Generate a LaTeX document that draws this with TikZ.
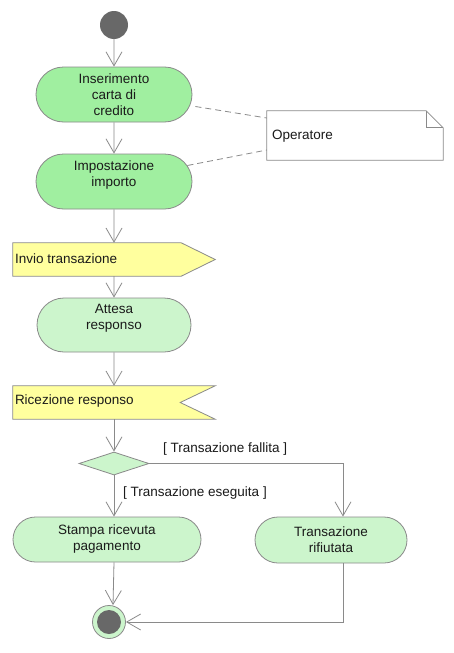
\documentclass[tikz,border=0pt]{standalone}
\usepackage{fontspec}
\setmainfont{Liberation Sans}
\usetikzlibrary{shapes.misc,shapes.geometric,arrows.meta,calc}
\definecolor{actgreen}{HTML}{A0EFA0}
\definecolor{palegreen}{HTML}{CCF5CC}
\definecolor{sigyellow}{HTML}{FFFF9E}
\definecolor{linegray}{HTML}{8A8A8A}
\definecolor{dotgray}{HTML}{686868}
\definecolor{txtcol}{HTML}{1A1A1A}
\begin{document}
\begin{tikzpicture}[x=1pt,y=-1pt,
  txt/.style={font=\fontsize{13.5}{16}\selectfont, text=txtcol},
  act/.style={rounded rectangle, draw=linegray, line width=0.8pt, txt, align=center, inner sep=0pt},
  shapebox/.style={rectangle, inner sep=0pt, draw=none},
  outline/.style={draw=linegray, line width=0.8pt},
  flow/.style={draw=linegray, line width=0.8pt, -{Straight Barb[length=14pt,width=16pt,line width=0.8pt]}},
  anchorline/.style={draw=linegray, line width=0.8pt, dash pattern=on 6pt off 4pt},
  guard/.style={txt, anchor=west, inner sep=0pt}
]
\useasboundingbox (0,0) rectangle (454,653);
\fill[white] (0,0) rectangle (454,653);

% start
\node[circle, fill=dotgray, minimum size=28pt, inner sep=0pt] (start) at (114,25) {};

% actions
\node[act, fill=actgreen, minimum width=156pt, minimum height=55pt] (n1) at (114,94.5) {Inserimento\\carta di\\credito};
\node[act, fill=actgreen, minimum width=156pt, minimum height=55pt] (n2) at (114,181.5) {Impostazione\\importo\\\mbox{}};

% send signal
\node[shapebox, minimum width=202pt, minimum height=33pt] (send) at (114,259.5) {};
\path[outline, fill=sigyellow] (send.north west) -- ($(send.north east)+(-34,0)$) -- (send.east) -- ($(send.south east)+(-34,0)$) -- (send.south west) -- cycle;
\node[guard] (sendtxt) at ($(send.west)+(2,-1)$) {Invio transazione};

\node[act, fill=palegreen, minimum width=154pt, minimum height=54pt] (n3) at (114,325) {Attesa\\responso\\\mbox{}};

% receive signal
\node[shapebox, minimum width=202pt, minimum height=33pt] (recv) at (114,402.5) {};
\path[outline, fill=sigyellow] (recv.north west) -- (recv.north east) -- ($(recv.east)+(-35,0)$) -- (recv.south east) -- (recv.south west) -- cycle;
\node[guard] (recvtxt) at ($(recv.west)+(2,-1)$) {Ricezione responso};

% decision
\node[diamond, draw=linegray, line width=0.8pt, fill=palegreen, minimum width=70pt, minimum height=23pt, inner sep=0pt] (dec) at (114,463.5) {};

\node[act, fill=palegreen, minimum width=188pt, minimum height=45pt] (n4) at (107,539.5) {Stampa ricevuta\\pagamento};
\node[act, fill=palegreen, minimum width=152pt, minimum height=46pt] (n5) at (331,540) {Transazione\\rifiutata};

% end
\node[circle, fill=palegreen, draw=linegray, line width=0.8pt, minimum size=33pt, inner sep=0pt] (end) at (109,622) {};
\node[circle, fill=dotgray, minimum size=24pt, inner sep=0pt] (endin) at (end) {};

% note
\node[shapebox, minimum width=176pt, minimum height=49pt] (note) at (355,135.5) {};
\path[outline, fill=white] (note.north west) -- ($(note.north east)+(-17,0)$) -- ($(note.north east)+(0,17)$) -- (note.south east) -- (note.south west) -- cycle;
\draw[outline] ($(note.north east)+(-17,0)$) -- ($(note.north east)+(-17,17)$) -- ($(note.north east)+(0,17)$);
\node[guard] (notetxt) at ($(note.west)+(5,1)$) {Operatore};

% note anchors
\coordinate (a1) at ($(n1.east)+(3,12)$);
\coordinate (a2) at ($(n2.east)+(-5,-16)$);
\draw[anchorline] (a1) -- ($(note.west)+(0,-17.5)$);
\draw[anchorline] (a2) -- ($(note.west)+(0,14.5)$);

% flows
\draw[flow] (start) -- (n1);
\draw[flow] (n1) -- (n2);
\draw[flow] (n2) -- (send.north);
\draw[flow] (send.south) -- (n3);
\draw[flow] (n3) -- (recv.north);
\draw[flow] (recv.south) -- (dec.north);
\draw[flow] (dec.south) -- (dec.south |- n4.north);
\coordinate (colR) at (343,463.5);
\draw[flow] (dec.east) -- (colR) -- (colR |- n5.north);
\draw[flow] (n4.south -| dec.south) -- ($(end.north)+(4,0)$);
\draw[flow] (colR |- n5.south) |- (end.east);

% guards
\node[guard] (gfail) at (163,449) {[ Transazione fallita ]};
\node[guard] (gok) at (123,493) {[ Transazione eseguita ]};
\end{tikzpicture}
\end{document}
